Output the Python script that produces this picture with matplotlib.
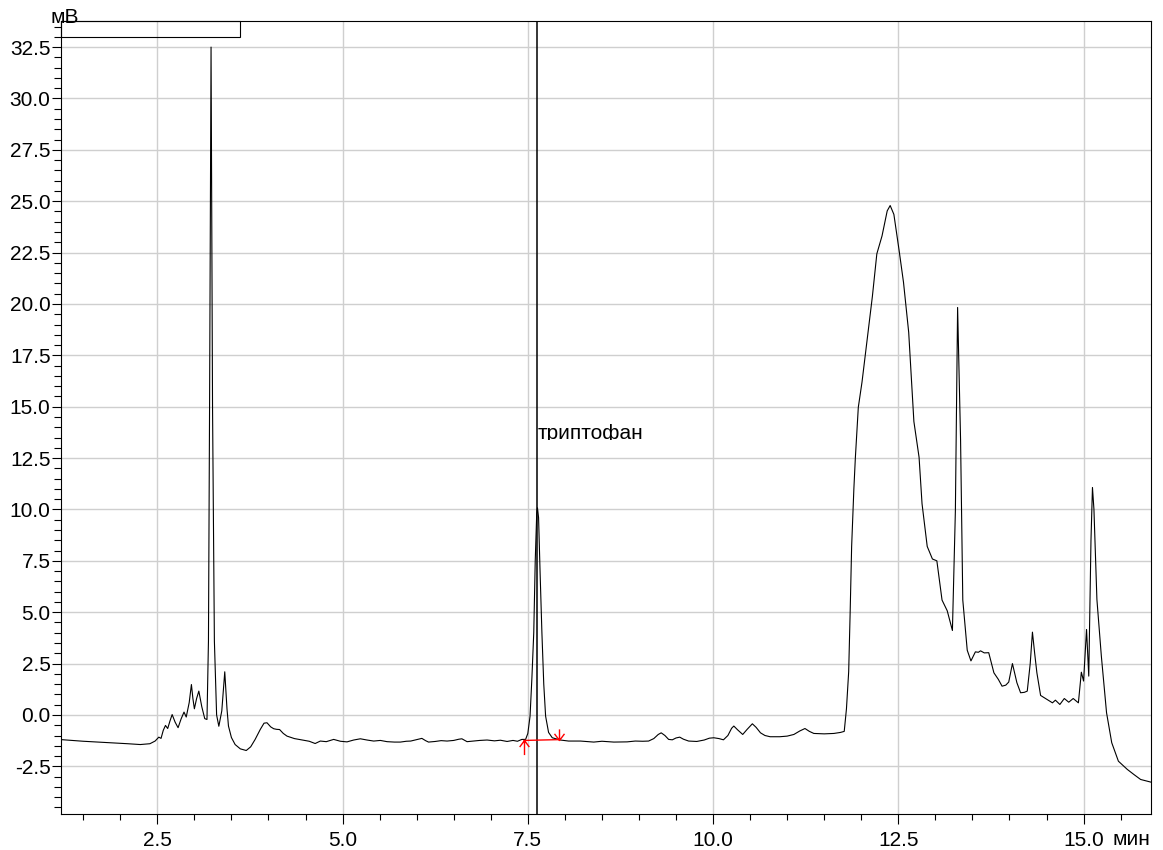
import matplotlib
matplotlib.use("Agg")
import matplotlib.pyplot as plt
from matplotlib.path import Path
from matplotlib.patches import Rectangle
from matplotlib.ticker import MultipleLocator, FormatStrFormatter
from matplotlib.transforms import Bbox, TransformedBbox

plt.rcParams['font.family'] = ['Liberation Sans', 'DejaVu Sans']

# chromatogram trace (min, mV)
t_min = [1.20, 1.50, 1.80, 2.10, 2.27, 2.40, 2.47, 2.52, 2.55, 2.58, 2.61, 2.64,
         2.67, 2.70, 2.74, 2.78, 2.82, 2.86, 2.89, 2.93, 2.96, 2.98, 3.00, 3.03,
         3.06, 3.10, 3.14, 3.17, 3.19, 3.205, 3.225, 3.245, 3.27, 3.30, 3.33,
         3.37, 3.41, 3.44, 3.46, 3.50, 3.55, 3.62, 3.70, 3.76, 3.82, 3.89, 3.94,
         3.98, 4.03, 4.07, 4.11, 4.15, 4.20, 4.25, 4.35, 4.47, 4.55, 4.63, 4.70,
         4.78, 4.88, 4.97, 5.06, 5.15, 5.24, 5.33, 5.42, 5.51, 5.60, 5.70, 5.78,
         5.86, 5.92, 6.00, 6.07, 6.12, 6.16, 6.25, 6.33, 6.41, 6.50, 6.57, 6.61,
         6.68, 6.76, 6.85, 6.95, 7.05, 7.13, 7.22, 7.30, 7.36, 7.42, 7.47,
         7.50, 7.53, 7.555, 7.58, 7.60, 7.62, 7.63, 7.645, 7.665, 7.69, 7.715,
         7.74, 7.78, 7.83, 7.94, 8.05, 8.21, 8.39, 8.50, 8.66, 8.84, 8.95, 9.05,
         9.13, 9.20, 9.26, 9.30, 9.35, 9.40, 9.45, 9.50, 9.55, 9.60, 9.67, 9.78,
         9.88, 9.95, 10.01, 10.08, 10.14, 10.20, 10.25, 10.28, 10.33, 10.40,
         10.46, 10.53, 10.58, 10.64, 10.70, 10.77, 10.90, 11.00, 11.09, 11.17,
         11.24, 11.30, 11.36, 11.50, 11.63, 11.72, 11.77,
         11.80, 11.83, 11.85, 11.87, 11.90, 11.92, 11.96, 12.01, 12.08, 12.15,
         12.21, 12.28, 12.35, 12.39, 12.44, 12.51, 12.57, 12.64, 12.71, 12.78,
         12.82, 12.89, 12.96, 13.02, 13.09, 13.16, 13.23, 13.27, 13.30, 13.34,
         13.37, 13.43, 13.48, 13.54, 13.58, 13.61, 13.66, 13.72, 13.79, 13.85,
         13.90, 13.95, 13.99, 14.04, 14.10, 14.15, 14.20, 14.24, 14.28, 14.31,
         14.34, 14.37, 14.42, 14.51, 14.58, 14.62, 14.68, 14.74, 14.80, 14.86,
         14.93, 14.97, 15.00, 15.04, 15.07, 15.10, 15.12, 15.14, 15.18, 15.24,
         15.31, 15.38, 15.47, 15.59, 15.68, 15.77, 15.91]
signal_mv = [-1.20, -1.28, -1.34, -1.40, -1.44, -1.40, -1.27, -1.08, -1.14, -0.75, -0.51, -0.66,
             -0.30, 0.02, -0.35, -0.62, -0.20, 0.14, -0.10, 0.60, 1.48, 0.80, 0.30, 0.80,
             1.16, 0.40, -0.18, -0.22, 3.6, 15.0, 32.5, 15.0, 3.6, 0.0, -0.55,
             0.2, 2.1, 0.3, -0.54, -1.10, -1.44, -1.65, -1.73, -1.55, -1.19, -0.70, -0.40,
             -0.38, -0.58, -0.67, -0.70, -0.71, -0.90, -1.03, -1.15, -1.23, -1.28, -1.39, -1.27,
             -1.30, -1.19, -1.28, -1.31, -1.22, -1.16, -1.22, -1.27, -1.24, -1.30, -1.32, -1.32,
             -1.28, -1.27, -1.20, -1.14, -1.25, -1.32, -1.29, -1.25, -1.27, -1.24, -1.18, -1.16,
             -1.30, -1.27, -1.24, -1.22, -1.26, -1.23, -1.29, -1.24, -1.28, -1.19, -1.19,
             -0.90, -0.06, 1.8, 4.0, 7.5, 9.8, 10.08, 9.6, 7.0, 4.0, 1.5,
             -0.06, -0.85, -1.11, -1.22, -1.27, -1.27, -1.32, -1.28, -1.32, -1.31, -1.27, -1.28,
             -1.27, -1.15, -0.95, -0.87, -1.00, -1.19, -1.21, -1.12, -1.08, -1.18, -1.27, -1.29,
             -1.22, -1.13, -1.11, -1.15, -1.21, -1.00, -0.65, -0.54, -0.72, -0.95,
             -0.70, -0.43, -0.60, -0.87, -1.00, -1.06, -1.06, -1.03, -0.95, -0.78,
             -0.66, -0.80, -0.90, -0.92, -0.90, -0.85, -0.80,
             0.3, 2.1, 5.0, 8.2, 11.0, 12.5, 14.97, 16.2, 18.27, 20.37,
             22.44, 23.31, 24.53, 24.79, 24.36, 22.62, 21.05, 18.62, 14.28, 12.54,
             10.28, 8.2, 7.59, 7.5, 5.59, 5.07, 4.11, 9.93, 19.83, 13.4,
             5.59, 3.15, 2.63, 3.07, 3.05, 3.12, 3.02, 3.03, 2.05, 1.73,
             1.40, 1.45, 1.60, 2.50, 1.57, 1.08, 1.10, 1.16, 2.5, 4.03,
             3.0, 2.05, 0.95, 0.75, 0.59, 0.72, 0.51, 0.80, 0.62, 0.80,
             0.59, 2.08, 1.65, 4.16, 1.89, 8.5, 11.07, 10.0, 5.62, 2.86,
             0.11, -1.35, -2.25, -2.65, -2.90, -3.14, -3.27]

# integration baseline of the tryptophan peak
trp_base_t = [7.45, 7.92]
trp_base_mv = [-1.24, -1.20]
trp_rt = 7.63
trp_label = "триптофан"
trp_label_mv = 13.43

x_ticks = [2.5, 5.0, 7.5, 10.0, 12.5, 15.0]
y_ticks = [-2.5, 0.0, 2.5, 5.0, 7.5, 10.0, 12.5, 15.0, 17.5, 20.0, 22.5, 25.0, 27.5, 30.0, 32.5]

W, H = 1163, 850
fig = plt.figure(figsize=(W / 100, H / 100), dpi=100)
ax = fig.add_axes([61 / W, 1 - 814 / H, 1090 / W, 793 / H])

ax.plot(t_min, signal_mv, color='black', lw=0.8)
ax.axvline(trp_rt, color='black', lw=1.1)

# red arrows at both ends of the peak baseline
up_arrow = Path([(0, 0), (0, -1), (-0.33, -0.45), (0, 0), (0.33, -0.45)],
                [Path.MOVETO, Path.LINETO, Path.MOVETO, Path.LINETO, Path.LINETO])
down_arrow = Path([(0, 0), (0, 1), (-0.45, 0.6), (0, 0), (0.45, 0.6)],
                  [Path.MOVETO, Path.LINETO, Path.MOVETO, Path.LINETO, Path.LINETO])
ax.plot(trp_base_t, trp_base_mv, color='red', lw=1)
ax.plot(trp_base_t[0], trp_base_mv[0], marker=up_arrow, ms=21, mfc='none', mec='red', mew=1)
ax.plot(trp_base_t[1], trp_base_mv[1], marker=down_arrow, ms=16, mfc='none', mec='red', mew=1)

lbl = ax.text(trp_rt, trp_label_mv, trp_label, fontsize=15, ha='left', va='baseline')
clip = TransformedBbox(Bbox([[537 / W, 1 - 439.5 / H], [700 / W, 1 - 410 / H]]), fig.transFigure)
lbl.set_clip_box(clip)
lbl.set_clip_on(True)

ax.set_xlim(1.2, 15.91)
ax.set_ylim(-4.82, 33.77)
ax.set_xticks(x_ticks)
ax.set_yticks(y_ticks)
ax.xaxis.set_minor_locator(MultipleLocator(0.5))
ax.yaxis.set_minor_locator(MultipleLocator(0.5))
ax.xaxis.set_major_formatter(FormatStrFormatter('%.1f'))
ax.yaxis.set_major_formatter(FormatStrFormatter('%.1f'))
ax.tick_params(axis='x', which='major', length=7, width=0.8, pad=5, labelsize=15)
ax.tick_params(axis='x', which='minor', length=4.3, width=0.8)
ax.tick_params(axis='y', which='major', length=6.5, width=0.8, pad=1, labelsize=15)
ax.tick_params(axis='y', which='minor', length=5, width=0.8)
ax.grid(True, which='major', color='#cfcfcf', lw=1)
ax.set_axisbelow(True)
for s in ax.spines.values():
    s.set_linewidth(0.8)

# empty box in the top left corner
ax.add_patch(Rectangle((0, 0.9798), 0.164, 0.0202, transform=ax.transAxes,
                       fill=False, edgecolor='black', lw=0.8, clip_on=False))

fig.text(50 / W, 1 - 23 / H, "мВ", fontsize=15, ha='left', va='baseline')
fig.text(1112 / W, 1 - 830 / H, "мин", fontsize=15, ha='left', va='top')

fig.savefig("out.png", dpi=100)
